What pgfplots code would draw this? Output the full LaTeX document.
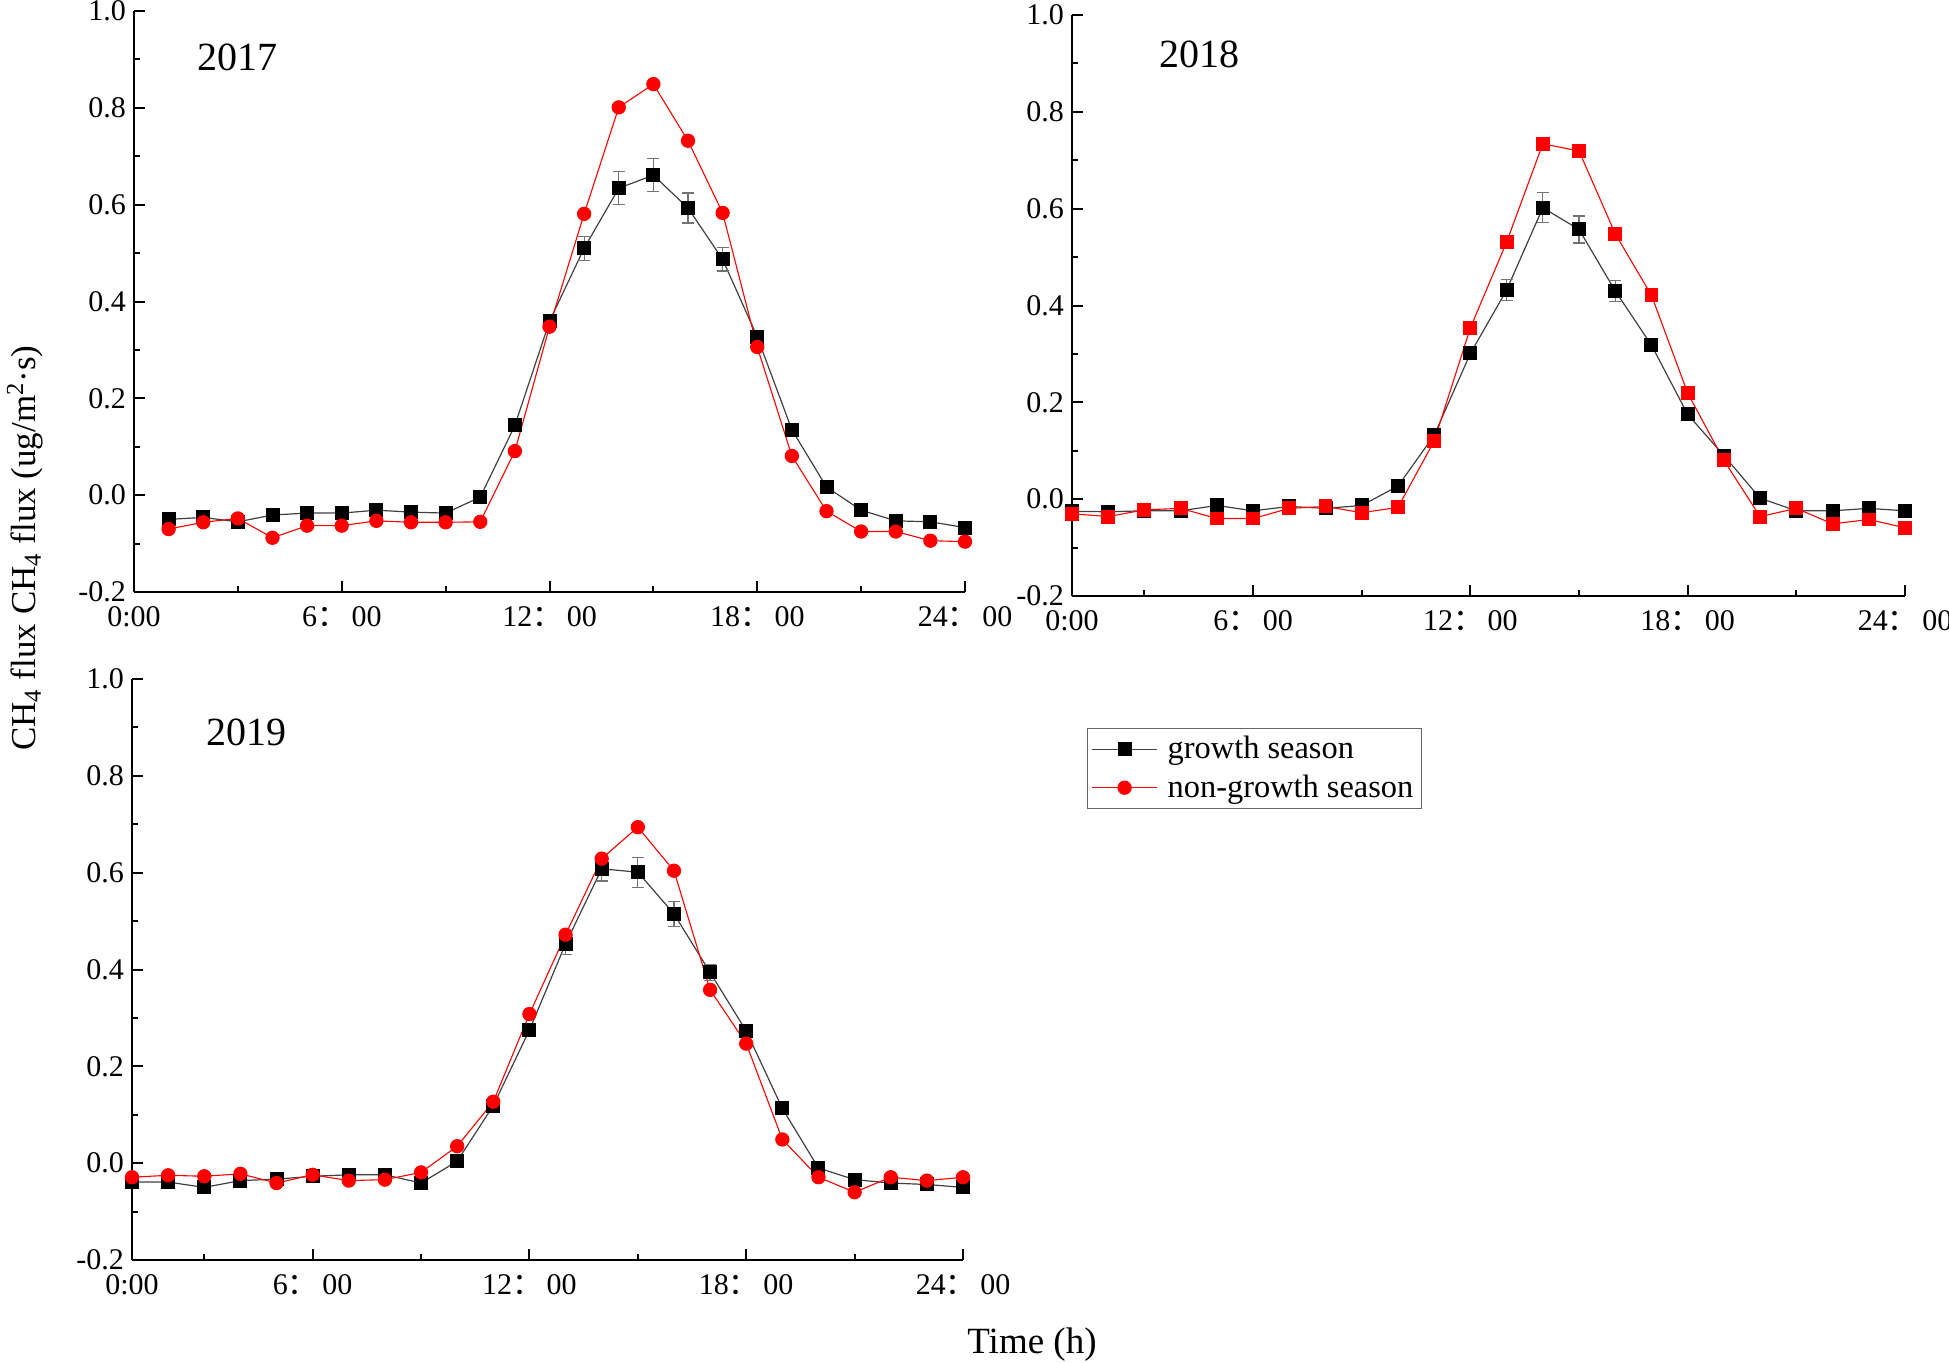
\documentclass[border=0pt]{standalone}
\usepackage{fontspec}
\setmainfont{Liberation Serif}
\newfontfamily\cjk{Noto Sans CJK SC}
\usepackage{pgfplots}
\usepackage{pgfplotstable}
\pgfplotsset{compat=1.18}

\newcommand{\hm}[1]{#1{\cjk ：}\hspace{0.15em}00}

% hour, growth, growth error, non-growth
\pgfplotstableread{
h g ge n
1 -0.050 0.005 -0.070
2 -0.046 0.005 -0.056
3 -0.055 0.005 -0.048
4 -0.041 0.005 -0.088
5 -0.037 0.005 -0.063
6 -0.037 0.005 -0.063
7 -0.031 0.005 -0.053
8 -0.035 0.005 -0.056
9 -0.037 0.005 -0.056
10 -0.004 0.005 -0.055
11 0.144 0.008 0.091
12 0.359 0.013 0.348
13 0.510 0.025 0.581
14 0.634 0.034 0.801
15 0.661 0.034 0.849
16 0.593 0.031 0.732
17 0.487 0.024 0.583
18 0.327 0.013 0.306
19 0.135 0.008 0.081
20 0.017 0.005 -0.033
21 -0.031 0.005 -0.075
22 -0.053 0.005 -0.075
23 -0.055 0.005 -0.094
24 -0.067 0.005 -0.096
}\dataA

\pgfplotstableread{
h g ge n
1 -0.025 0.005 -0.030
2 -0.026 0.005 -0.036
3 -0.024 0.005 -0.022
4 -0.024 0.005 -0.019
5 -0.013 0.005 -0.040
6 -0.024 0.005 -0.040
7 -0.015 0.005 -0.019
8 -0.019 0.005 -0.015
9 -0.013 0.005 -0.028
10 0.027 0.005 -0.017
11 0.132 0.008 0.120
12 0.301 0.013 0.354
13 0.432 0.022 0.531
14 0.602 0.031 0.734
15 0.557 0.028 0.719
16 0.430 0.021 0.548
17 0.318 0.012 0.421
18 0.175 0.008 0.219
19 0.090 0.006 0.080
20 0.002 0.005 -0.036
21 -0.024 0.005 -0.019
22 -0.024 0.005 -0.051
23 -0.019 0.005 -0.042
24 -0.024 0.005 -0.059
}\dataB

\pgfplotstableread{
h g ge n
1 -0.039 0.005 -0.029
2 -0.039 0.005 -0.025
3 -0.050 0.005 -0.027
4 -0.036 0.005 -0.022
5 -0.033 0.005 -0.041
6 -0.027 0.005 -0.024
7 -0.024 0.005 -0.036
8 -0.024 0.005 -0.034
9 -0.041 0.005 -0.019
10 0.004 0.005 0.035
11 0.119 0.008 0.127
12 0.275 0.010 0.308
13 0.453 0.022 0.472
14 0.608 0.025 0.629
15 0.601 0.031 0.694
16 0.515 0.026 0.604
17 0.394 0.017 0.358
18 0.273 0.010 0.247
19 0.113 0.006 0.049
20 -0.010 0.005 -0.029
21 -0.034 0.005 -0.060
22 -0.041 0.005 -0.029
23 -0.044 0.005 -0.036
24 -0.050 0.005 -0.029
}\dataC

\pgfplotsset{
  panel/.style={
    scale only axis,
    width=415.5pt, height=290.5pt,
    anchor=north west,
    ymin=-0.2, ymax=1.0,
    ytick={-0.2,0,0.2,0.4,0.6,0.8,1.0},
    yticklabels={-0.2,0.0,0.2,0.4,0.6,0.8,1.0},
    minor ytick={-0.1,0.1,0.3,0.5,0.7,0.9},
    minor xtick={3,9,15,21},
    axis x line=bottom, axis y line=left,
    axis line style={-, line width=1pt, black},
    tick align=inside,
    major tick length=5.5pt, minor tick length=3.2pt,
    every tick/.append style={black, line width=1pt},
    tick label style={font=\fontsize{15}{17}\selectfont},
    xticklabel style={yshift=-3.5pt},
    yticklabel style={xshift=-0.5pt},
    clip=false,
  },
  grow/.style={
    black!75, line width=0.6pt,
    mark=square*, mark size=3.2pt,
    mark options={solid, fill=black, draw=black},
    error bars/.cd, y dir=both, y explicit,
    error bar style={black!55, line width=0.6pt},
    error mark options={rotate=90, mark size=3pt, black!55, line width=0.6pt},
  },
  nongrow/.style={
    red, line width=0.55pt,
    mark=*, mark size=3.3pt,
    mark options={solid, fill=red, draw=red},
  },
}

\begin{document}
\begin{tikzpicture}
\useasboundingbox (0,0) rectangle (974.5pt,-681pt);

% 2017
\begin{axis}[panel, at={(67pt,-5.5pt)},
  xmin=0, xmax=24,
  xtick={0,6,12,18,24},
  xticklabels={0:00,\hm{6},\hm{12},\hm{18},\hm{24}}]
\addplot+[grow] table[x=h, y=g, y error=ge] {\dataA};
\addplot+[nongrow] table[x=h, y=n] {\dataA};
\end{axis}

% 2018
\begin{axis}[panel, at={(536pt,-7.5pt)},
  width=416.5pt,
  xmin=1, xmax=24,
  xtick={1,6,12,18,24},
  xticklabels={0:00,\hm{6},\hm{12},\hm{18},\hm{24}}]
\addplot+[grow] table[x=h, y=g, y error=ge] {\dataB};
\addplot+[nongrow, mark=square*, mark size=3.2pt] table[x=h, y=n] {\dataB};
\end{axis}

% 2019
\begin{axis}[panel, at={(66pt,-339.5pt)},
  xmin=1, xmax=24,
  xtick={1,6,12,18,24},
  xticklabels={0:00,\hm{6},\hm{12},\hm{18},\hm{24}},
  legend style={at={(1.1492,0.9157)}, anchor=north west,
    draw=black!60, line width=0.5pt,
    font=\fontsize{16.2}{19}\selectfont,
    inner xsep=2pt, inner ysep=2pt,
    row sep=2.5pt, column sep=3pt,
    cells={anchor=west}},
  legend image code/.code={%
    \draw[mark repeat=2, mark phase=2, #1]
      plot coordinates {(0pt,0pt) (16.25pt,0pt) (32.5pt,0pt)};}]
\addplot+[grow] table[x=h, y=g, y error=ge] {\dataC};
\addplot+[nongrow] table[x=h, y=n] {\dataC};
\legend{growth season, non-growth season}
\end{axis}

% panel titles
\node[font=\fontsize{20}{24}\selectfont] at (118.5pt,-28.5pt) {2017};
\node[font=\fontsize{20}{24}\selectfont] at (599.5pt,-27pt) {2018};
\node[font=\fontsize{20}{24}\selectfont] at (123pt,-366pt) {2019};

% axis titles
\node[rotate=90, font=\fontsize{17.5}{21}\selectfont] at (12.5pt,-274pt)
  {CH\textsubscript{4} flux CH\textsubscript{4} flux (ug/m\textsuperscript{2}·s)};
\node[anchor=base, font=\fontsize{18.5}{22}\selectfont] at (516pt,-676.5pt) {Time (h)};
\end{tikzpicture}
\end{document}
